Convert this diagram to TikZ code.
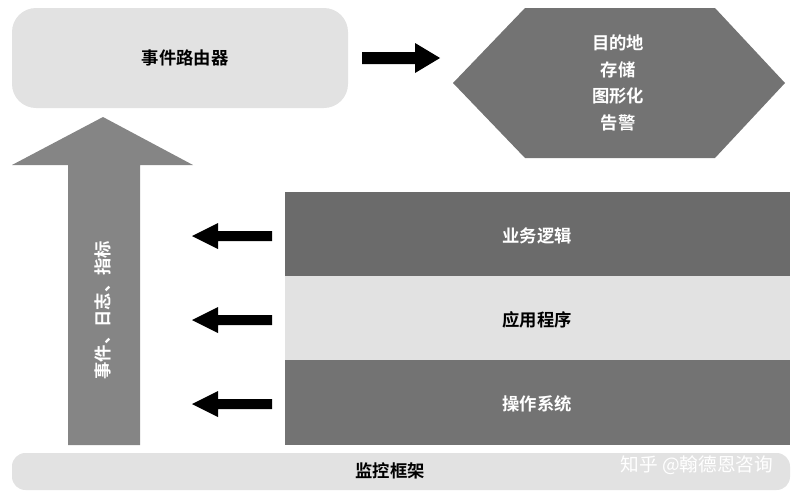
\documentclass[tikz,border=0pt]{standalone}
\usepackage{fontspec}
\setmainfont{Noto Sans CJK SC}
\newfontfamily\cjkb{Noto Sans CJK SC Bold}
\usetikzlibrary{shapes.geometric}
\definecolor{lightg}{HTML}{E2E2E2}
\definecolor{darkg}{HTML}{6B6B6B}
\definecolor{midg}{HTML}{737373}
\definecolor{arrg}{HTML}{858585}
\tikzset{lbl/.style={font=\cjkb\fontsize{13}{16}\selectfont},
 blk/.style={fill=black,draw=none}}
\begin{document}
\begin{tikzpicture}[x=0.75pt,y=-0.75pt]
\useasboundingbox (0,0) rectangle (800,500);
% router
\filldraw[fill=lightg,draw=none,rounded corners=18] (12,8) rectangle (348,108);
\node[lbl] (router) at (185,58) {事件路由器};
% right arrow
\fill[black] (362,52) -- (415,52) -- (415,43) -- (440,58) -- (415,73) -- (415,64) -- (362,64) -- cycle;
\coordinate (ra) at (440,58);
% hexagon
\fill[midg] (453,83) -- (525,8) -- (715,8) -- (785,83) -- (715,158) -- (525,158) -- cycle;
\node[lbl,white,align=center,font=\cjkb\fontsize{13}{20}\selectfont] (dest) at (618,83) {目的地\\存储\\图形化\\告警};
% big up arrow
\fill[arrg] (68,445) -- (68,165) -- (12,165) -- (103,117) -- (193,165) -- (140,165) -- (140,445) -- cycle;
\node[lbl,white,rotate=90] (evt) at (103,310) {事件、日志、指标};
% stack
\fill[darkg] (285,192) rectangle (790,276);
\fill[lightg] (285,276) rectangle (790,360);
\fill[midg] (285,360) rectangle (790,445);
\node[lbl,white] (biz) at (537,236) {业务逻辑};
\node[lbl] (app) at (537,320) {应用程序};
\node[lbl,white] (os) at (537,404) {操作系统};
% left arrows
\foreach \y in {236,320,404}{
 \fill[black] (272,\y-5) -- (218,\y-5) -- (218,\y-13) -- (192,\y) -- (218,\y+13) -- (218,\y+5) -- (272,\y+5) -- cycle;}
% bottom bar
\fill[lightg,rounded corners=10] (12,453) rectangle (790,490);
\node[lbl] (mon) at (390,471) {监控框架};
\node[font=\fontsize{14}{16}\selectfont,white] (wm) at (697,465) {知乎 @翰德恩咨询};
\end{tikzpicture}
\end{document}
